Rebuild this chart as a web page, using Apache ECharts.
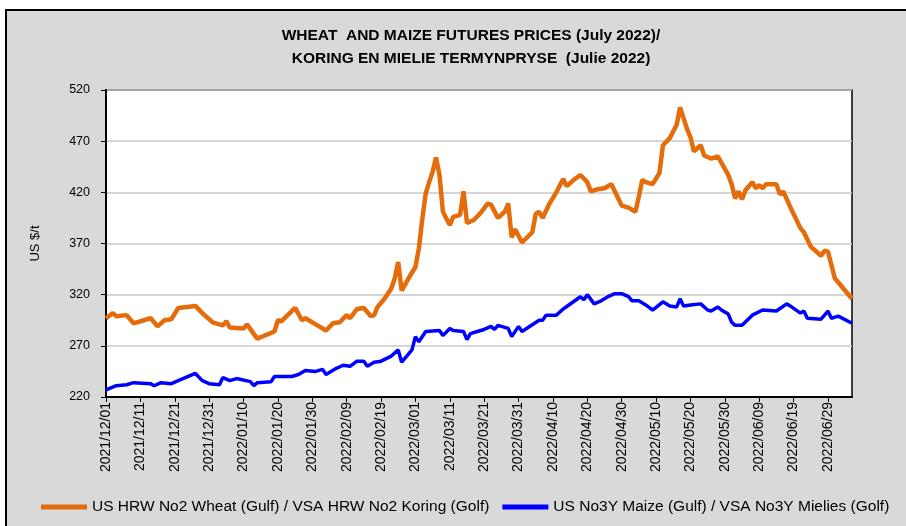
<!DOCTYPE html>
<html style="height: 100%">
<head>
    <meta charset="utf-8">
</head>
<body style="height: 100%; margin: 0">
<div id="container" style="width: 906px; height: 526px"></div>
<script type="text/javascript" src="https://cdn.jsdelivr.net/npm/echarts@6/dist/echarts.min.js"></script>
<script type="text/javascript">
// wheat (orange) - dates and US$/t
var wheatDates = [
    '2021-12-01','2021-12-03','2021-12-04','2021-12-07','2021-12-09','2021-12-12','2021-12-14','2021-12-16','2021-12-18','2021-12-20',
    '2021-12-22','2021-12-27','2021-12-29','2022-01-01','2022-01-04','2022-01-05','2022-01-06','2022-01-10','2022-01-11','2022-01-14',
    '2022-01-19','2022-01-20','2022-01-21','2022-01-25','2022-01-27','2022-01-28','2022-02-01','2022-02-03','2022-02-05','2022-02-07',
    '2022-02-09','2022-02-10','2022-02-12','2022-02-14','2022-02-16','2022-02-17','2022-02-18','2022-02-20','2022-02-22','2022-02-23',
    '2022-02-24','2022-02-25','2022-02-27','2022-03-01','2022-03-02','2022-03-03','2022-03-04','2022-03-05','2022-03-06','2022-03-07',
    '2022-03-08','2022-03-09','2022-03-11','2022-03-12','2022-03-14','2022-03-15','2022-03-16','2022-03-18','2022-03-20','2022-03-22',
    '2022-03-23','2022-03-25','2022-03-27','2022-03-28','2022-03-29','2022-03-30','2022-04-01','2022-04-04','2022-04-05','2022-04-06',
    '2022-04-07','2022-04-09','2022-04-11','2022-04-13','2022-04-14','2022-04-16','2022-04-18','2022-04-20','2022-04-21','2022-04-23',
    '2022-04-25','2022-04-27','2022-04-28','2022-04-30','2022-05-02','2022-05-04','2022-05-05','2022-05-06','2022-05-07','2022-05-09',
    '2022-05-11','2022-05-12','2022-05-14','2022-05-16','2022-05-17','2022-05-19','2022-05-20','2022-05-21','2022-05-23','2022-05-24',
    '2022-05-26','2022-05-28','2022-05-31','2022-06-01','2022-06-02','2022-06-03','2022-06-04','2022-06-05','2022-06-07','2022-06-08',
    '2022-06-09','2022-06-10','2022-06-11','2022-06-14','2022-06-15','2022-06-16','2022-06-18','2022-06-21','2022-06-22','2022-06-24',
    '2022-06-27','2022-06-28','2022-06-29','2022-07-01','2022-07-03','2022-07-06'
];
var wheatPrices = [
    297, 302, 299, 300, 292, 295, 297, 289, 295, 296,
    307, 309, 302, 293, 290, 294, 288, 287, 291, 277,
    284, 295, 294, 307, 295, 297, 289, 285, 292, 293,
    300, 297, 306, 307, 299, 300, 308, 316, 326, 336,
    352, 324, 336, 347, 365, 394, 419, 430, 440, 454,
    437, 401, 388, 396, 398, 421, 390, 393, 400, 409,
    408, 395, 401, 409, 376, 384, 371, 381, 399, 401,
    395, 409, 420, 433, 426, 432, 437, 430, 421, 423,
    424, 428, 421, 407, 405, 401, 416, 432, 430, 428,
    439, 466, 473, 486, 503, 482, 474, 460, 466, 456,
    453, 455, 437, 428, 414, 421, 413, 422, 430, 424,
    427, 424, 428, 428, 418, 421, 406, 385, 381, 367,
    358, 363, 362, 336, 328, 316
];

// maize (blue)
var maizeDates = [
    '2021-12-01','2021-12-04','2021-12-07','2021-12-09','2021-12-14','2021-12-15','2021-12-17','2021-12-20','2021-12-22','2021-12-27',
    '2021-12-29','2021-12-31','2022-01-03','2022-01-04','2022-01-06','2022-01-08','2022-01-12','2022-01-13','2022-01-14','2022-01-18',
    '2022-01-19','2022-01-24','2022-01-26','2022-01-28','2022-01-31','2022-02-02','2022-02-03','2022-02-06','2022-02-08','2022-02-10',
    '2022-02-12','2022-02-14','2022-02-15','2022-02-17','2022-02-19','2022-02-22','2022-02-24','2022-02-25','2022-02-28','2022-03-01',
    '2022-03-02','2022-03-04','2022-03-08','2022-03-09','2022-03-11','2022-03-12','2022-03-15','2022-03-16','2022-03-17','2022-03-19',
    '2022-03-21','2022-03-23','2022-03-24','2022-03-25','2022-03-28','2022-03-29','2022-03-31','2022-04-01','2022-04-06','2022-04-07',
    '2022-04-08','2022-04-11','2022-04-13','2022-04-18','2022-04-19','2022-04-20','2022-04-22','2022-04-24','2022-04-26','2022-04-28',
    '2022-04-30','2022-05-02','2022-05-03','2022-05-05','2022-05-07','2022-05-09','2022-05-12','2022-05-14','2022-05-16','2022-05-17',
    '2022-05-18','2022-05-20','2022-05-23','2022-05-25','2022-05-26','2022-05-28','2022-05-29','2022-05-31','2022-06-01','2022-06-02',
    '2022-06-04','2022-06-07','2022-06-10','2022-06-14','2022-06-17','2022-06-18','2022-06-21','2022-06-22','2022-06-23','2022-06-27',
    '2022-06-29','2022-06-30','2022-07-02','2022-07-06'
];
var maizePrices = [
    227, 231, 232, 234, 233, 231, 234, 233, 236, 243,
    236, 233, 232, 239, 236, 238, 235, 231, 234, 235,
    240, 240, 242, 246, 245, 247, 242, 248, 251, 250,
    255, 255, 250, 254, 255, 260, 266, 254, 266, 279,
    274, 284, 285, 280, 287, 285, 284, 276, 282, 284,
    286, 289, 286, 290, 287, 279, 289, 284, 295, 295,
    300, 300, 306, 318, 315, 320, 311, 314, 318, 321,
    321, 318, 314, 314, 310, 305, 313, 309, 308, 316,
    309, 310, 311, 305, 304, 308, 305, 301, 293, 290,
    290, 300, 305, 304, 311, 309, 302, 304, 297, 296,
    304, 297, 299, 292
];

var yTicks = [220, 270, 320, 370, 420, 470, 520];
var startDate = '2021-12-01';
var endDay = 217;   // axis ends a few days into July

var wheatName = 'US HRW No2 Wheat (Gulf) / VSA HRW No2 Koring (Golf)';
var maizeName = 'US No3Y Maize (Gulf) / VSA No3Y Mielies (Golf)';

var DAY = 86400000;
var base = Date.parse(startDate);
function dayOf(s) { return Math.round((Date.parse(s) - base) / DAY); }
function pad(n) { return n < 10 ? '0' + n : '' + n; }
function fmtDay(v) {
    var d = new Date(base + v * DAY);
    return d.getUTCFullYear() + '/' + pad(d.getUTCMonth() + 1) + '/' + pad(d.getUTCDate());
}
function pairs(dates, vals) {
    var out = [];
    for (var i = 0; i < dates.length; i++) out.push([dayOf(dates[i]), vals[i]]);
    return out;
}
var xTicks = [];
for (var t = 0; t <= endDay; t += 10) xTicks.push(t);

var font = "'Liberation Sans', Arial, sans-serif";

var dom = document.getElementById("container");
var myChart = echarts.init(dom, null, {renderer: 'canvas'});

var option = {
    backgroundColor: '#ffffff',
    animation: false,
    graphic: [
        {
            type: 'rect', z: -10, silent: true,
            shape: {x: 6, y: 10, width: 1000, height: 600},
            style: {fill: '#d9d9d9', stroke: '#000', lineWidth: 2}
        },
        {
            type: 'text', z: 10, x: 471, y: 24,
            style: {
                text: 'WHEAT  AND MAIZE FUTURES PRICES (July 2022)/\nKORING EN MIELIE TERMYNPRYSE  (Julie 2022)',
                textAlign: 'center', fill: '#000',
                font: 'bold 15.5px ' + font, lineHeight: 23
            }
        }
    ],
    legend: {
        left: 36, top: 494, width: 870,
        icon: 'rect', itemWidth: 46, itemHeight: 5, itemGap: 13,
        textStyle: {color: '#000', fontSize: 15.5, fontFamily: font},
        data: [wheatName, maizeName]
    },
    grid: {
        left: 106, right: 54, top: 90, bottom: 129,
        show: true, backgroundColor: '#ffffff', borderColor: '#000', borderWidth: 1.5
    },
    xAxis: {
        type: 'value', min: 0, max: endDay,
        axisLine: {lineStyle: {color: '#000', width: 2}},
        axisTick: {show: true, length: 5, customValues: xTicks, lineStyle: {color: '#000'}},
        axisLabel: {
            customValues: xTicks, rotate: 90, margin: 5,
            color: '#000', fontSize: 14, fontFamily: font,
            formatter: fmtDay
        },
        splitLine: {show: false}
    },
    yAxis: {
        type: 'value', min: 220, max: 520, interval: 50,
        name: 'US $/t', nameLocation: 'middle', nameGap: 64, nameRotate: 90,
        nameTextStyle: {color: '#000', fontSize: 13, fontFamily: font},
        axisLine: {show: true, lineStyle: {color: '#000', width: 2}},
        axisTick: {show: true, length: 5, customValues: yTicks, lineStyle: {color: '#000'}},
        axisLabel: {customValues: yTicks, margin: 16, color: '#000', fontSize: 12.5, fontFamily: font},
        splitLine: {show: true, lineStyle: {color: '#c8c8c8', width: 1.5}}
    },
    series: [
        {
            name: wheatName, type: 'line', showSymbol: false,
            color: '#e46c0a',
            lineStyle: {color: '#e46c0a', width: 4.5},
            data: pairs(wheatDates, wheatPrices)
        },
        {
            name: maizeName, type: 'line', showSymbol: false,
            color: '#0000ff',
            lineStyle: {color: '#0000ff', width: 3.5},
            data: pairs(maizeDates, maizePrices)
        }
    ]
};

myChart.setOption(option);
</script>
</body>
</html>
